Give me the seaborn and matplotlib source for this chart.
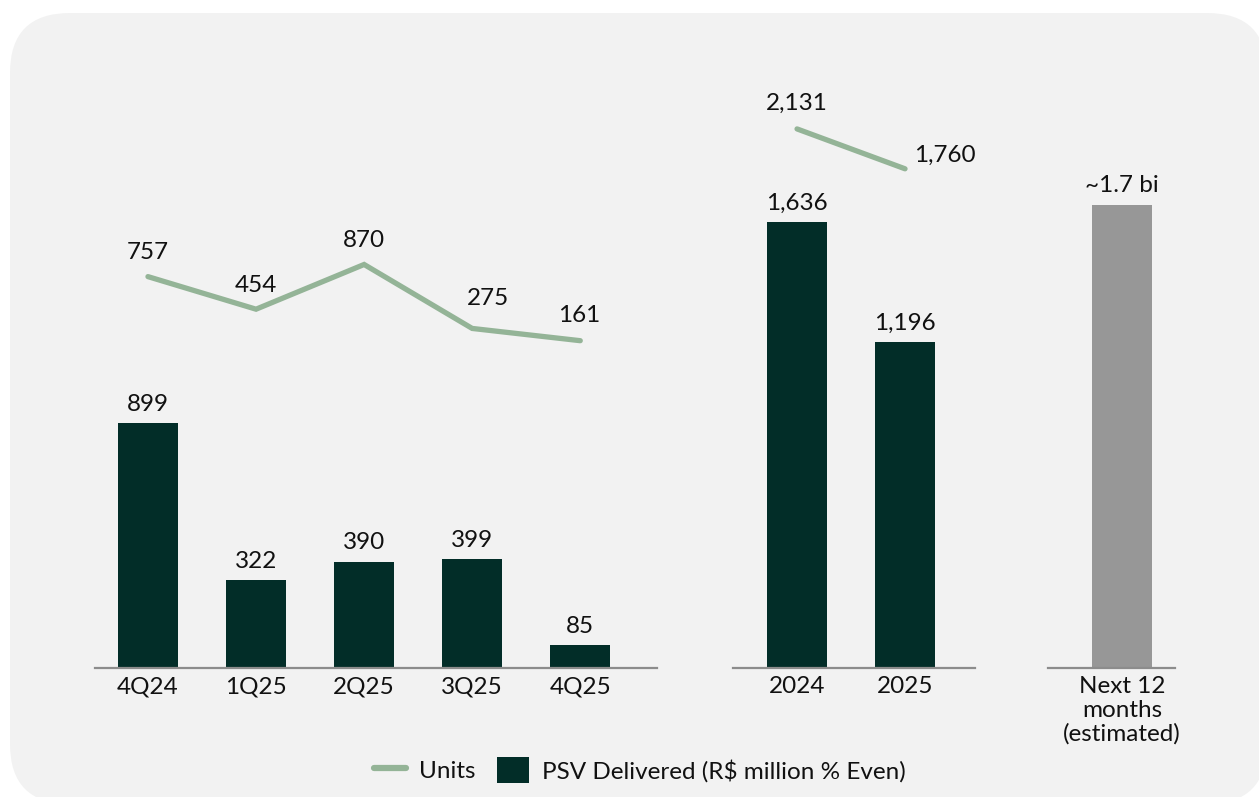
import numpy as np
import matplotlib
matplotlib.use("Agg")
import matplotlib.pyplot as plt
import seaborn as sns
from matplotlib.patches import FancyBboxPatch, Patch
from matplotlib.lines import Line2D

# data
quarters = ["4Q24", "1Q25", "2Q25", "3Q25", "4Q25"]
psv_q = [899, 322, 390, 399, 85]
units_q = [757, 454, 870, 275, 161]

years = ["2024", "2025"]
psv_y = [1636, 1196]
units_y = [2131, 1760]

next_label = ["Next 12\nmonths\n(estimated)"]
next_psv = [1700]
next_text = ["~1.7 bi"]

DARK = "#022d28"
SAGE = "#94b497"
GREY = "#979797"
BG = "#f2f2f2"

sns.set_theme(style="white")
plt.rcParams["font.family"] = ["Lato", "DejaVu Sans"]
FS = 17.5

W, H = 1259, 797
fig = plt.figure(figsize=(W / 100, H / 100), dpi=100, facecolor="white")

# rounded background card (pixel coords)
card = FancyBboxPatch((10, H - 804), 1257, 791, boxstyle="round,pad=0,rounding_size=60",
                      transform=None, facecolor=BG, edgecolor="none", zorder=-10)
fig.patches.append(card)

BASE = 668      # baseline (px from top)
TOP = 90        # axes top (px from top)
BAR_SCALE = 0.2725   # px per R$ million
LINE_SCALE = 0.1075  # px per unit
LINE_ZERO = 358      # px from top where units = 0
ax_h = BASE - TOP
bar_top = ax_h / BAR_SCALE
line_bot = -(BASE - LINE_ZERO) / LINE_SCALE
line_top = (LINE_ZERO - TOP) / LINE_SCALE


def make_axes(x0, x1):
    ax = fig.add_axes([x0 / W, (H - BASE) / H, (x1 - x0) / W, ax_h / H])
    ax.set_facecolor("none")
    for s in ["top", "left", "right"]:
        ax.spines[s].set_visible(False)
    ax.spines["bottom"].set_color("#8c8c8c")
    ax.spines["bottom"].set_linewidth(1.6)
    ax.set_ylim(0, bar_top)
    ax.set_yticks([])
    ax.tick_params(axis="x", length=0, pad=6, labelsize=FS, labelcolor="#111111")
    return ax


def draw_bars(ax, cats, vals, color, labels, xlim):
    sns.barplot(x=cats, y=vals, ax=ax, color=color, width=0.556, saturation=1,
                linewidth=0, edgecolor=color)
    ax.bar_label(ax.containers[0], labels=labels, padding=6, fontsize=FS, color="#111111")
    ax.set_xlim(*xlim)
    ax.set_ylim(0, bar_top)
    ax.set_xlabel("")
    ax.set_ylabel("")


def draw_line(ax, vals, offsets):
    ax2 = ax.twinx()
    xs = np.arange(len(vals))
    sns.lineplot(x=xs, y=vals, ax=ax2, color=SAGE, linewidth=3.8,
                 solid_capstyle="round", solid_joinstyle="miter")
    ax2.set_ylim(line_bot, line_top)
    ax2.axis("off")
    for x, v, off in zip(xs, vals, offsets):
        ax2.annotate(f"{v:,}", (x, v), xytext=off, textcoords="offset pixels",
                     ha="center", va="center", fontsize=FS, color="#111111")
    return ax2


# quarterly panel
ax1 = make_axes(95, 657)
draw_bars(ax1, quarters, psv_q, DARK, [f"{v:,}" for v in psv_q], (-0.49, 4.71))
draw_line(ax1, units_q, [(0, 24), (0, 24), (0, 24), (16, 30), (-1, 25)])
ax1.set_xlim(-0.49, 4.71)

# annual panel
ax2 = make_axes(733, 975)
draw_bars(ax2, years, psv_y, DARK, [f"{v:,}" for v in psv_y], (-0.593, 1.648))
draw_line(ax2, units_y, [(0, 26), (40, 13)])
ax2.set_xlim(-0.593, 1.648)

# next 12 months panel
ax3 = make_axes(1048, 1175)
draw_bars(ax3, next_label, next_psv, GREY, next_text, (-0.685, 0.49))
ax3.set_xlim(-0.685, 0.49)
for t in ax3.get_xticklabels():
    t.set_linespacing(1.15)

# legend
handles = [Line2D([0], [0], color=SAGE, linewidth=4.5, solid_capstyle="round"),
           Patch(facecolor=DARK, edgecolor="none")]
fig.legend(handles, ["Units", "PSV Delivered (R$ million % Even)"],
           loc="center", bbox_to_anchor=(640 / W, 1 - 770 / H), ncol=2, frameon=False,
           fontsize=FS, handlelength=1.3, handleheight=1.25, handletextpad=0.55,
           columnspacing=0.9, labelcolor="#111111")

fig.savefig("out.png", dpi=100, facecolor="white")
